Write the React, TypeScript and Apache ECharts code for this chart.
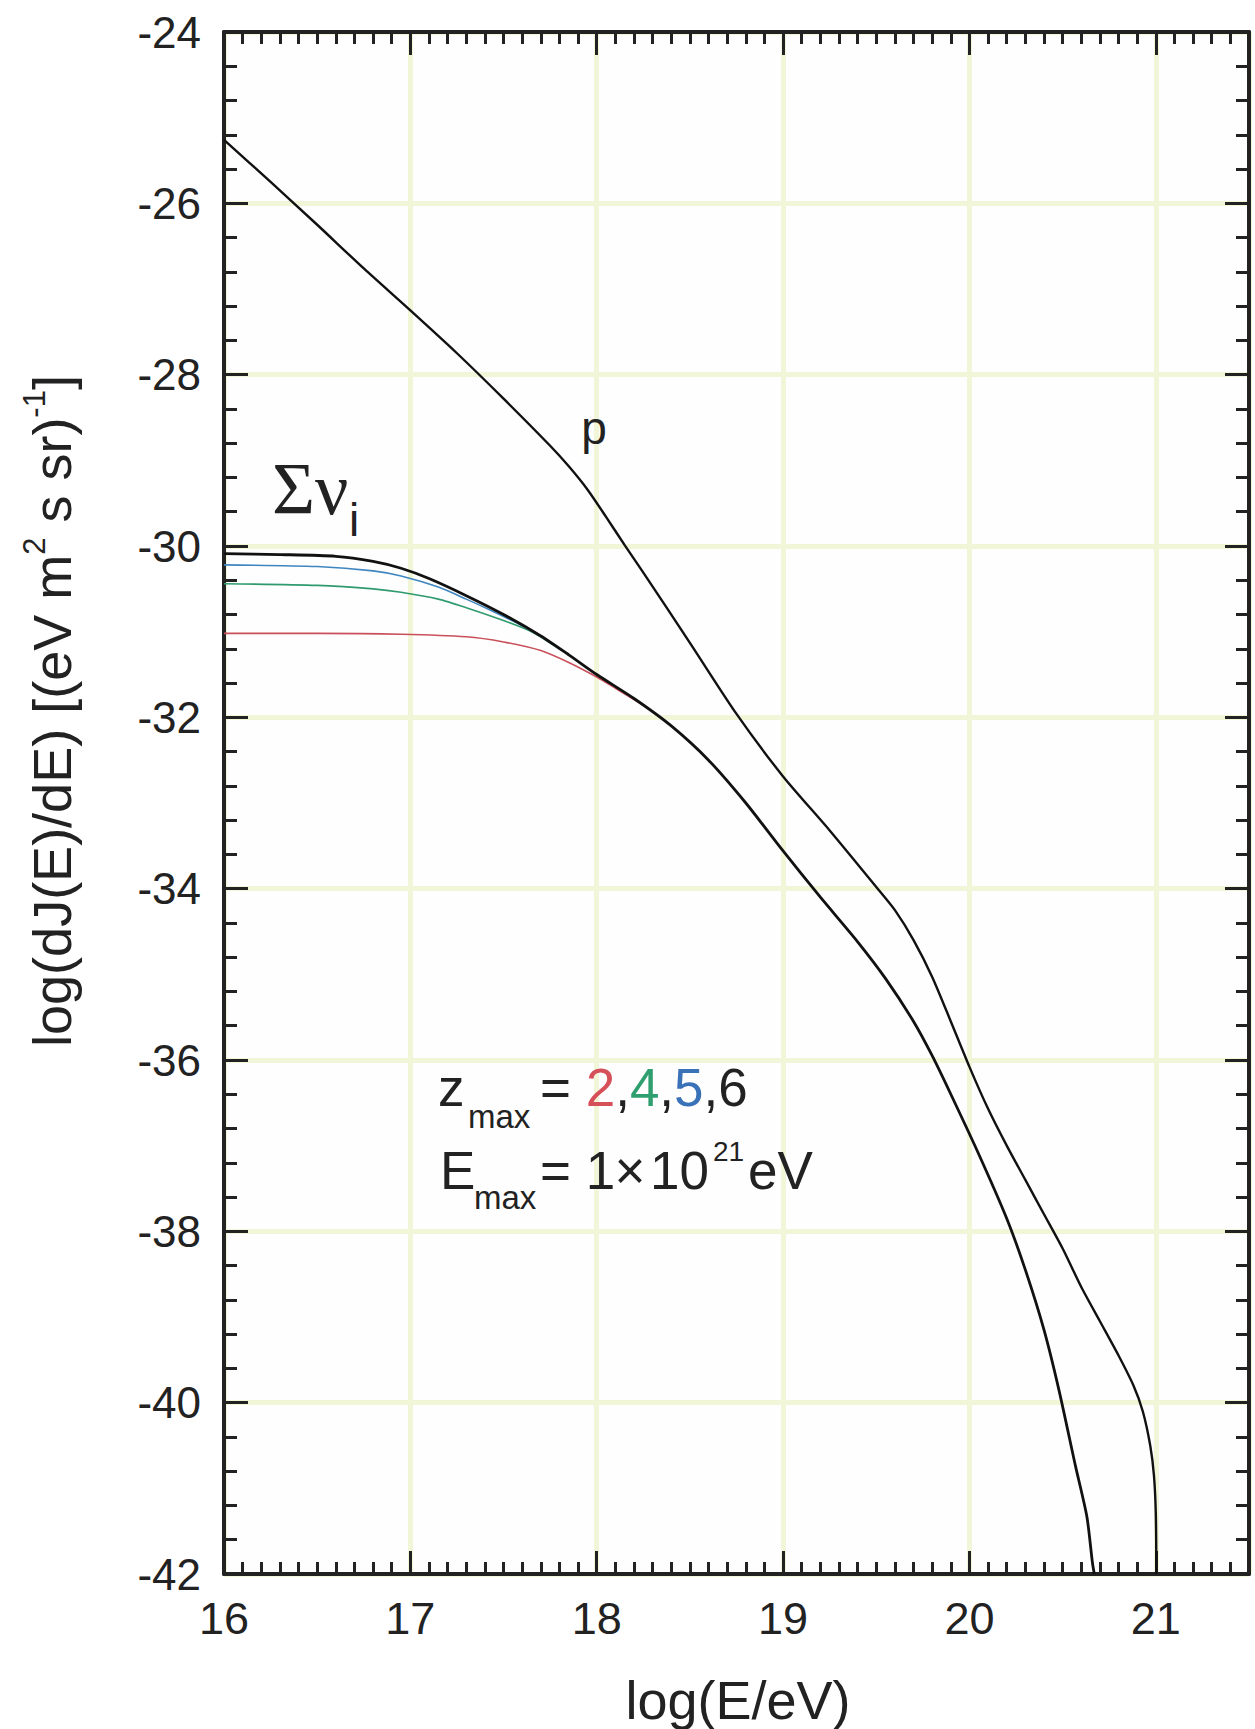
import React, { useEffect, useRef } from "react";
import * as echarts from "echarts";

// log(E/eV), log(dJ/dE) pairs
const protonFlux: [number, number][] = [
  [16.0, -25.26], [16.25, -25.75], [16.5, -26.25], [16.75, -26.76], [17.0, -27.25],
  [17.25, -27.75], [17.5, -28.28], [17.75, -28.83], [17.85, -29.07], [17.95, -29.34],
  [18.05, -29.66], [18.15, -29.99], [18.25, -30.31], [18.5, -31.13], [18.75, -31.96],
  [19.0, -32.69], [19.25, -33.32], [19.5, -33.98], [19.6, -34.25], [19.7, -34.6],
  [19.8, -35.03], [19.9, -35.55], [20.0, -36.08], [20.1, -36.57], [20.2, -37.0],
  [20.3, -37.4], [20.4, -37.8], [20.5, -38.2], [20.6, -38.65], [20.7, -39.05],
  [20.8, -39.45], [20.88, -39.8], [20.93, -40.1], [20.97, -40.5], [20.99, -40.85],
  [21.0, -41.3], [21.003, -42.0],
];

const nuZmax6: [number, number][] = [
  [16.0, -30.09], [16.3, -30.1], [16.6, -30.12], [16.8, -30.18], [16.95, -30.26],
  [17.1, -30.38], [17.3, -30.58], [17.5, -30.8], [17.7, -31.05], [17.85, -31.27],
  [18.0, -31.5], [18.2, -31.78], [18.4, -32.1], [18.6, -32.5], [18.8, -33.0],
  [19.0, -33.56], [19.2, -34.1], [19.4, -34.62], [19.55, -35.05], [19.7, -35.55],
  [19.8, -35.95], [19.9, -36.4], [20.05, -37.1], [20.2, -37.85], [20.3, -38.45],
  [20.4, -39.15], [20.48, -39.85], [20.57, -40.75], [20.63, -41.33], [20.66, -41.87],
  [20.67, -42.0],
];

const nuZmax5: [number, number][] = [
  [16.0, -30.22], [16.5, -30.24], [16.8, -30.29], [16.95, -30.35], [17.15, -30.48],
  [17.3, -30.62], [17.45, -30.77], [17.6, -30.93], [17.75, -31.12],
];

const nuZmax4: [number, number][] = [
  [16.0, -30.44], [16.5, -30.46], [16.8, -30.5], [16.95, -30.54], [17.15, -30.62],
  [17.3, -30.72], [17.5, -30.87], [17.65, -31.0], [17.8, -31.2],
];

const nuZmax2: [number, number][] = [
  [16.0, -31.02], [16.5, -31.02], [16.95, -31.03], [17.3, -31.06], [17.5, -31.12],
  [17.7, -31.22], [17.85, -31.36], [18.0, -31.53], [18.1, -31.66], [18.25, -31.86],
];

const xRange = { min: 16, max: 21.5, interval: 1, minorSplit: 10 };
const yRange = { min: -42, max: -24, interval: 2, minorSplit: 5 };

const SANS = "'Liberation Sans', Arial, Helvetica, sans-serif";
const SERIF = "'Liberation Serif', 'Times New Roman', serif";
const INK = "#222222";

export default function App() {
  const ref = useRef<HTMLDivElement>(null);

  useEffect(() => {
    if (!ref.current) return;
    const chart = echarts.init(ref.current, null, { renderer: "svg" });

    const gridColor = "#f2f6d8";
    const axisLine = { show: true, onZero: false, lineStyle: { color: INK, width: 4 } };

    const xCommon = (pos: "bottom" | "top", main: boolean) => ({
      type: "value",
      position: pos,
      min: xRange.min,
      max: xRange.max,
      interval: xRange.interval,
      axisLine,
      axisTick: { show: true, inside: true, length: 23, lineStyle: { color: INK, width: 3 } },
      minorTick: { show: true, splitNumber: xRange.minorSplit, length: 12, lineStyle: { color: INK, width: 3 } },
      axisLabel: main
        ? { show: true, margin: 22, fontSize: 45, color: INK, fontFamily: SANS, showMaxLabel: false }
        : { show: false },
      splitLine: main ? { show: true, lineStyle: { color: gridColor, width: 5 } } : { show: false },
      minorSplitLine: { show: false },
    });

    const yCommon = (pos: "left" | "right", main: boolean) => ({
      type: "value",
      position: pos,
      min: yRange.min,
      max: yRange.max,
      interval: yRange.interval,
      axisLine,
      axisTick: { show: true, inside: true, length: 24, lineStyle: { color: INK, width: 3 } },
      minorTick: { show: true, splitNumber: yRange.minorSplit, length: 13, lineStyle: { color: INK, width: 3 } },
      axisLabel: main
        ? { show: true, margin: 23, fontSize: 44, color: INK, fontFamily: SANS }
        : { show: false },
      splitLine: main ? { show: true, lineStyle: { color: gridColor, width: 5 } } : { show: false },
    });

    const lineSeries = (name: string, data: [number, number][], color: string, width: number, z: number) => ({
      name,
      type: "line",
      data,
      xAxisIndex: 0,
      yAxisIndex: 0,
      showSymbol: false,
      symbol: "none",
      smooth: 0.25,
      lineStyle: { color, width },
      z,
      silent: true,
    });

    const txt = (
      text: string,
      x: number,
      baseline: number,
      fontSize: number,
      opts: any = {}
    ) => ({
      type: "text",
      x,
      y: baseline - 0.3465 * fontSize,
      silent: true,
      z: 100,
      style: {
        text,
        fontSize,
        fontFamily: opts.fontFamily || SANS,
        fill: opts.fill || INK,
        align: opts.align || "left",
        textAlign: opts.align || "left",
        verticalAlign: "middle",
        textVerticalAlign: "middle",
        rich: opts.rich,
      },
    });

    chart.setOption({
      animation: false,
      backgroundColor: "#ffffff",
      grid: {
        left: 224,
        top: 32,
        width: 1025,
        height: 1542,
        show: true,
        backgroundColor: "#fefefe",
        borderWidth: 0,
      },
      xAxis: [xCommon("bottom", true), xCommon("top", false)],
      yAxis: [yCommon("left", true), yCommon("right", false)],
      series: [
        lineSeries("ν zmax=2", nuZmax2, "#c9505a", 1.6, 3),
        lineSeries("ν zmax=4", nuZmax4, "#2f9a6e", 1.6, 3),
        lineSeries("ν zmax=5", nuZmax5, "#3f86c0", 1.6, 3),
        lineSeries("ν zmax=6", nuZmax6, "#111111", 2.8, 4),
        lineSeries("p", protonFlux, "#111111", 2.4, 4),
      ],
      graphic: [
        // axis titles
        {
          type: "text",
          x: 738,
          y: 1700,
          silent: true,
          style: {
            text: "log(E/eV)",
            fontSize: 54,
            fontFamily: SANS,
            fill: INK,
            align: "center",
            textAlign: "center",
            verticalAlign: "middle",
            textVerticalAlign: "middle",
          },
        },
        {
          type: "text",
          x: 52,
          y: 711,
          rotation: Math.PI / 2,
          silent: true,
          style: {
            text: "log(dJ(E)/dE) [(eV m{sup|2} s sr){sup|-1}]",
            fontSize: 54,
            lineHeight: 66,
            fontFamily: SANS,
            fill: INK,
            align: "center",
            textAlign: "center",
            verticalAlign: "middle",
            textVerticalAlign: "middle",
            rich: {
              sup: { fontSize: 31, lineHeight: 31, verticalAlign: "top", fontFamily: SANS, fill: INK },
            },
          },
        },
        // curve labels
        txt("p", 594, 444, 46, { align: "center" }),
        txt("Σν", 272, 515, 74, { fontFamily: SERIF }),
        txt("i", 349, 536, 46),
        // parameter box
        txt("z", 438, 1106, 53),
        txt("max", 468, 1128, 33),
        txt("= {r|2},{g|4},{b|5},6", 540, 1106, 53, {
          rich: {
            r: { fill: "#d6505a", fontSize: 53, fontFamily: SANS },
            g: { fill: "#2f9f70", fontSize: 53, fontFamily: SANS },
            b: { fill: "#3a72b8", fontSize: 53, fontFamily: SANS },
          },
        }),
        txt("E", 440, 1189, 53),
        txt("max", 474, 1209, 33),
        txt("= 1", 540, 1189, 53),
        txt("×", 630, 1189, 53, { align: "center" }),
        txt("10", 650, 1189, 53),
        txt("21", 713, 1161, 28),
        txt("eV", 748, 1189, 53),
      ],
    });

    return () => chart.dispose();
  }, []);

  return (
    <div
      ref={ref}
      style={{ position: "absolute", left: 0, top: 0, width: 1255, height: 1729, background: "#ffffff" }}
    />
  );
}
